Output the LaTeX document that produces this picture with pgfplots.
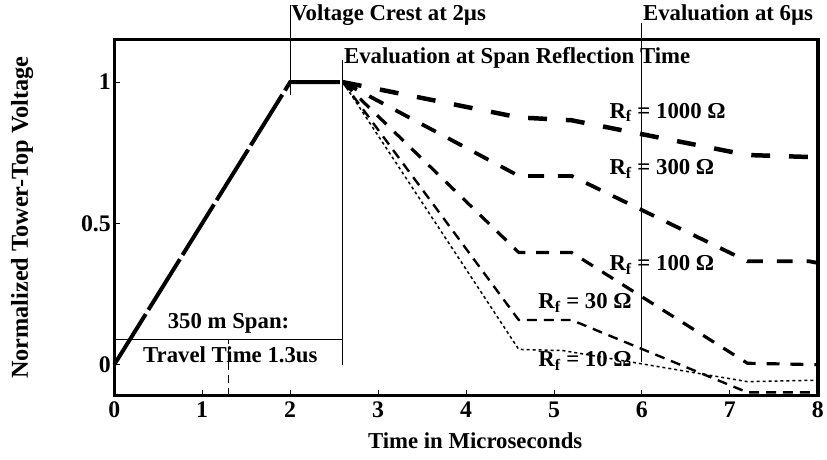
\documentclass[border=0pt]{standalone}
\usepackage{fontspec}
\setmainfont{Liberation Serif}
\usepackage{pgfplots}
\pgfplotsset{compat=1.18}
\newcommand{\lf}{\fontsize{23}{27}\selectfont\bfseries}
\begin{document}
\begin{tikzpicture}
\begin{axis}[
 scale only axis, width=708bp, height=358bp,
 xmin=0, xmax=8, ymin=-0.109, ymax=1.15,
 xtick={0,1,2,3,4,5,6,7,8},
 ytick={0,0.5,1}, yticklabels={0,0.5,1},
 tick pos=left, tick align=inside, major tick length=6bp,
 tick style={black, line width=0.8bp},
 axis line style={line width=3.5bp},
 /pgf/number format/assume math mode=true,
 ticklabel style={font=\fontsize{24}{28}\selectfont\bfseries},
 xticklabel style={yshift=-3bp},
 xlabel={Time in Microseconds},
 ylabel={Normalized Tower-Top Voltage},
 every axis x label/.style={at={(axis description cs:0.513,-0.128)},anchor=center,font=\lf},
 every axis y label/.style={at={(axis description cs:-0.131,0.5)},anchor=center,rotate=90,font=\fontsize{24.5}{28}\selectfont\bfseries},
 clip=false,
]
\path (axis description cs:-0.1624,-0.1788) rectangle (axis description cs:1.0056,1.1117);
% rise
\addplot[black, line width=4bp, dash pattern=on 60bp off 5bp] coordinates {(0,0)(2,1)(2.6,1)};
% Rf = 1000
\addplot[black, line width=4.5bp, dash pattern=on 19bp off 19bp] coordinates {(2.6,1)(4.6,0.875)(5.2,0.865)(7.2,0.742)(7.9,0.735)(8,0.74)};
% Rf = 300
\addplot[black, line width=3.8bp, dash pattern=on 16bp off 14bp] coordinates {(2.6,1)(4.6,0.668)(5.2,0.668)(7.2,0.366)(7.9,0.366)(8,0.36)};
% Rf = 100
\addplot[black, line width=3.2bp, dash pattern=on 13bp off 11bp] coordinates {(2.6,1)(4.6,0.397)(5.2,0.397)(7.2,0.005)(8,0.0)};
% Rf = 30
\addplot[black, line width=2.4bp, dash pattern=on 10bp off 7bp] coordinates {(2.6,1)(4.6,0.158)(5.2,0.158)(7.2,-0.098)(8,-0.098)};
% Rf = 10
\addplot[black, line width=1.5bp, dash pattern=on 3bp off 3bp] coordinates {(2.6,1)(4.6,0.054)(5.1,0.05)(7.2,-0.06)(8,-0.055)};
% annotation lines
\draw[line width=0.9bp] (axis cs:2,0.955) -- (axis cs:2,1.273);
\draw[line width=0.9bp] (axis cs:2.6,0) -- (axis cs:2.6,1.08);
\draw[line width=0.9bp] (axis cs:6,0.01) -- (axis cs:6,1.21);
\draw[line width=0.8bp] (axis cs:0,0.09) -- (axis cs:2.6,0.09);
\draw[line width=0.9bp, dash pattern=on 8bp off 5bp] (axis cs:1.3,-0.109) -- (axis cs:1.3,0.09);
% texts
\node[font=\lf, anchor=west, inner sep=1bp] at (axis cs:2,1.238) {Voltage Crest at 2µs};
\node[font=\lf, anchor=west, inner sep=1bp] at (axis cs:6,1.238) {Evaluation at 6µs};
\node[font=\lf, anchor=west, inner sep=1bp] at (axis cs:2.6,1.087) {Evaluation at Span Reflection Time};
\node[font=\lf, anchor=west, inner sep=0bp] at (axis cs:5.63,0.893) {R\textsubscript{f} = 1000 Ω};
\node[font=\lf, anchor=west, inner sep=0bp] at (axis cs:5.63,0.693) {R\textsubscript{f} = 300 Ω};
\node[font=\lf, anchor=west, inner sep=0bp] at (axis cs:5.63,0.352) {R\textsubscript{f} = 100 Ω};
\node[font=\lf, anchor=west, inner sep=0bp] at (axis cs:4.82,0.218) {R\textsubscript{f} = 30 Ω};
\node[font=\lf, anchor=west, inner sep=0bp] at (axis cs:4.82,0.014) {R\textsubscript{f} = 10 Ω};
\node[font=\lf, anchor=center] at (axis cs:1.3,0.148) {350 m Span:};
\node[font=\lf, anchor=center] at (axis cs:1.32,0.035) {Travel Time 1.3us};
\end{axis}
\end{tikzpicture}
\end{document}
